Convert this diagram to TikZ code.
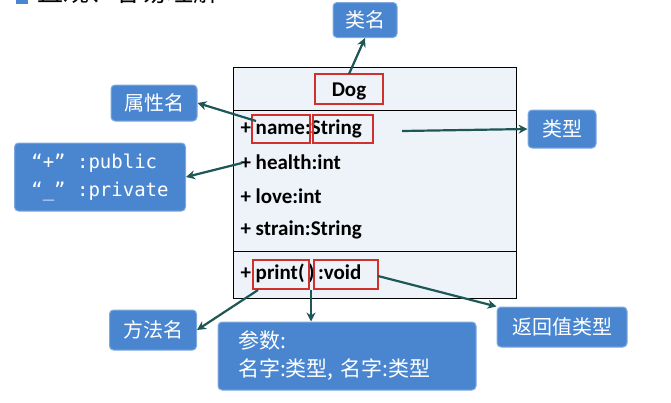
\documentclass[tikz,border=0pt]{standalone}
\usepackage{fontspec}
\setmainfont{Carlito}
\newfontfamily\cjk{Noto Sans CJK SC}
\newfontfamily\monof{DejaVu Sans Mono}
\usetikzlibrary{arrows.meta}
\definecolor{tagblue}{HTML}{4A86D0}
\definecolor{arrowteal}{HTML}{1F5656}
\definecolor{umlfill}{HTML}{EEF3FA}
\definecolor{markred}{HTML}{D0312D}
\tikzset{
  tag/.style={draw=tagblue!70!white, fill=tagblue, rounded corners=4pt, text=white, font=\cjk\fontsize{20}{20}\selectfont, inner sep=0pt, line width=1pt},
  redmark/.style={draw=markred, line width=1.2pt},
  attr/.style={anchor=west, font=\bfseries\fontsize{21}{21}\selectfont},
  pointer/.style={draw=arrowteal, line width=2.2pt, -{Stealth[length=9pt,width=9pt]}}
}
\begin{document}
\begin{tikzpicture}[x=1pt,y=-1pt]
\useasboundingbox (0,0) rectangle (671,402);
% title, cut by the top edge
\fill[tagblue] (16,-6) rectangle (28,4);
\node[anchor=west, font=\cjk\fontsize{26}{26}\selectfont] (title) at (34,-8) {直观、容易理解};
% class box
\draw[fill=umlfill, line width=1pt] (233,67) rectangle (516,298);
\draw[line width=1pt] (233,110) -- (516,110);
\draw[line width=1pt] (233,251) -- (516,251);
\node[font=\bfseries\fontsize{21}{21}\selectfont] (dog) at (349,91) {Dog};
\node[attr] (a1) at (237,129) {+ name:String};
\node[attr] (a2) at (237,162) {+ health:int};
\node[attr] (a3) at (237,196) {+ love:int};
\node[attr] (a4) at (237,230) {+ strain:String};
\node[attr] (m1) at (237,273) {+ print(\,)\,:void};
% red marks
\draw[redmark] (315,74) rectangle (383,104);
\draw[redmark] (252,115) rectangle (310,143);
\draw[redmark] (313,115) rectangle (373,143);
\draw[redmark] (253,260) rectangle (309,289);
\draw[redmark] (314,260) rectangle (378,289);
\coordinate (dogTop) at (349,74);
\coordinate (nameEnd) at (256,121);
\coordinate (typeEnd) at (402,131);
\coordinate (plusEnd) at (242,163);
\coordinate (printEnd) at (258,290);
\coordinate (argEnd) at (311,290);
\coordinate (voidEnd) at (378,276);
% labels
\node[tag, minimum width=64, minimum height=35] (cname) at (365,20) {类名};
\node[tag, minimum width=86, minimum height=36] (aname) at (154,103) {属性名};
\node[tag, minimum width=68, minimum height=38] (atype) at (562,129) {类型};
\node[tag, minimum width=171, minimum height=68, align=left, font=\monof\fontsize{19}{28}\selectfont] (vis) at (100,177) {“+” :public\\“\_” :private};
\node[tag, minimum width=87, minimum height=40] (mname) at (153,330) {方法名};
\node[tag, minimum width=258, minimum height=68, align=left, text width=218, font=\cjk\fontsize{21}{28}\selectfont] (params) at (347,356) {参数:\\名字:类型, 名字:类型};
\node[tag, minimum width=130, minimum height=40] (ret) at (562,327) {返回值类型};
% pointers
\draw[pointer] (dogTop) -- (cname.south);
\draw[pointer] (nameEnd) -- (aname.east);
\draw[pointer] (typeEnd) -- (atype.west);
\draw[pointer] (plusEnd) -- (vis.east);
\draw[pointer] (printEnd) -- (mname.east);
\draw[pointer] (argEnd) -- (argEnd |- params.north);
\draw[pointer] (voidEnd) -- (ret.north west);
\end{tikzpicture}
\end{document}
